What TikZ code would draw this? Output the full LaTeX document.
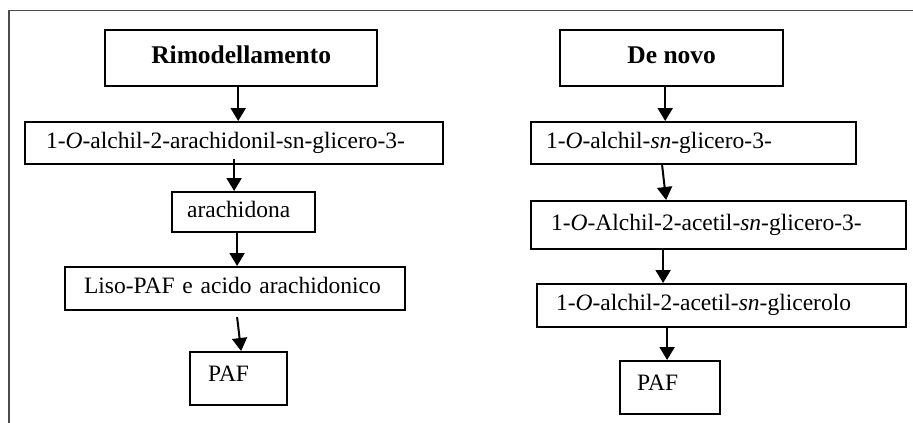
\documentclass[tikz,border=0pt]{standalone}
\usepackage{fontspec}
\setmainfont{Liberation Serif}
\usetikzlibrary{arrows.meta}
\begin{document}
\begin{tikzpicture}[x=1pt,y=-1pt,
  bx/.style={draw, line width=2.2pt, rectangle, anchor=north west, inner ysep=0pt, align=left,
    font=\fontsize{23.5pt}{28pt}\selectfont, text height=16.5pt, text depth=5.9pt},
  hd/.style={draw, line width=2.4pt, rectangle, anchor=north west, inner sep=0pt, align=center,
    font=\fontsize{25.5pt}{30pt}\selectfont\bfseries, text height=17.8pt, text depth=6.4pt},
  paf/.style={bx, text depth=9.9pt},
  arr/.style={line width=2pt, -{Triangle[width=15pt,length=13pt]}},
  frame/.style={line width=1.3pt, draw=black!70}]
\useasboundingbox (0,0) rectangle (913,423);
\coordinate (fr) at (9,423);
\coordinate (fc) at (9,10.5);
\coordinate (fl) at (913,10.5);
\draw[frame] (fr) -- (fc) -- (fl);

% left column
\node[hd, minimum width=272pt, minimum height=56pt] (rim) at (104,29) {Rimodellamento};
\node[bx, minimum width=418pt, minimum height=42pt, inner xsep=21pt, text width=376pt] (b2) at (24,121)
  {1-\textit{O}-alchil-2-arachidonil-sn-glicero-3-};
\node[bx, minimum width=143pt, minimum height=40pt, inner xsep=15pt, text width=113pt] (b3) at (171,191)
  {arachidona};
\node[bx, minimum width=340pt, minimum height=43pt, inner xsep=19pt, text width=302pt] (b4) at (64,266)
  {Liso-PAF e acido arachidonico};
\node[paf, minimum width=97pt, minimum height=53pt, inner xsep=18pt, text width=61pt] (p1) at (189,351)
  {PAF};

\draw[arr] ([xshift=-3pt]rim.south) -- ([xshift=-3pt]rim.south |- b2.north);
\draw[arr] ([yshift=6pt]b2.south) -- (b2.south |- b3.north);
\draw[arr] ([xshift=-6.5pt]b3.south) -- ([xshift=-6.5pt]b3.south |- b4.north);
\draw[arr] ([xshift=2pt,yshift=-6pt]b4.south) -- ([xshift=2.5pt]p1.north);

% right column
\node[hd, minimum width=223pt, minimum height=56pt] (dn) at (559,29) {De novo};
\node[bx, minimum width=325pt, minimum height=42pt, inner xsep=15pt, text width=295pt] (r2) at (530,121)
  {1-\textit{O}-alchil-\textit{sn}-glicero-3-};
\node[bx, minimum width=375pt, minimum height=48pt, inner xsep=20pt, text width=335pt] (r3) at (530,200)
  {1-\textit{O}-Alchil-2-acetil-\textit{sn}-glicero-3-};
\node[bx, minimum width=369pt, minimum height=43pt, inner xsep=19pt, text width=331pt] (r4) at (536,283)
  {1-\textit{O}-alchil-2-acetil-\textit{sn}-glicerolo};
\node[paf, minimum width=100pt, minimum height=53pt, inner xsep=17pt, text width=66pt] (p2) at (619,360)
  {PAF};

\draw[arr] ([xshift=-6.5pt]dn.south) -- ([xshift=-6.5pt]dn.south |- r2.north);
\draw[arr] ([xshift=-31.5pt]r2.south) -- ([xshift=-52.5pt]r3.north);
\draw[arr] ([xshift=-55.5pt]r3.south) -- ([xshift=-55.5pt]r3.south |- r4.north);
\draw[arr] ([xshift=-54.5pt]r4.south) -- ([xshift=-54.5pt]r4.south |- p2.north);
\end{tikzpicture}
\end{document}
